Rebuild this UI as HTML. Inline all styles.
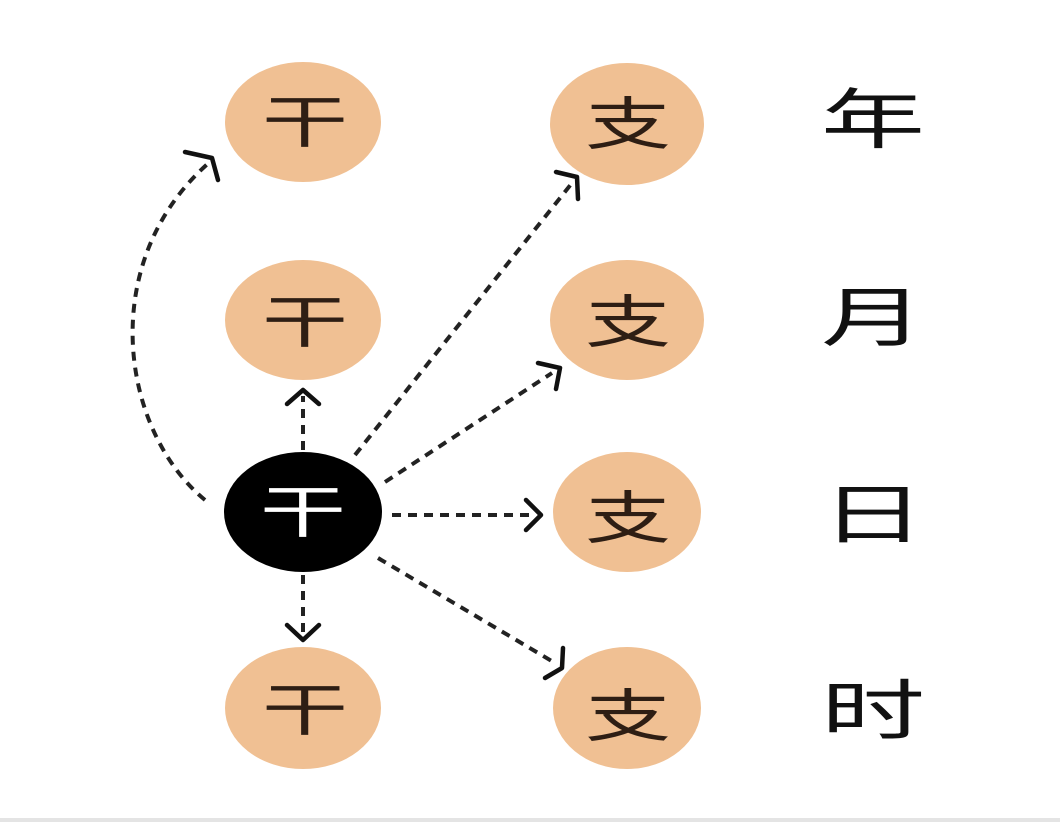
<!DOCTYPE html>
<html><head><meta charset="utf-8"><style>
html,body{margin:0;padding:0;background:#fff;}
svg{display:block;}
text{font-family:"Liberation Sans","Noto Sans CJK SC",sans-serif;}
</style></head><body>
<svg width="1060" height="822" viewBox="0 0 1060 822" xmlns="http://www.w3.org/2000/svg">
<rect width="1060" height="822" fill="#fff"/>
<g fill="#f0c093">
<ellipse cx="303" cy="122" rx="78" ry="60"/>
<ellipse cx="303" cy="320" rx="78" ry="60"/>
<ellipse cx="303" cy="708" rx="78" ry="61"/>
<ellipse cx="627" cy="124" rx="77" ry="61"/>
<ellipse cx="627" cy="320" rx="77" ry="60"/>
<ellipse cx="627" cy="512" rx="74" ry="60"/>
<ellipse cx="627" cy="708" rx="74" ry="61"/>
</g>
<ellipse cx="303" cy="512" rx="79" ry="60" fill="#000"/>
<g font-size="86" text-anchor="middle" fill="#2e1e14">
<text transform="translate(305,122) scale(1,0.66)" y="30">干</text>
<text transform="translate(305,322) scale(1,0.66)" y="30">干</text>
<text transform="translate(305,710) scale(1,0.66)" y="30">干</text>
<text transform="translate(628,124) scale(1,0.66)" y="30">支</text>
<text transform="translate(628,322) scale(1,0.66)" y="30">支</text>
<text transform="translate(628,518) scale(1,0.66)" y="30">支</text>
<text transform="translate(628,716) scale(1,0.66)" y="30">支</text>
<text transform="translate(303,512) scale(1,0.66)" y="30" fill="#fff">干</text>
</g>
<g font-size="104" text-anchor="middle" fill="#111">
<text transform="translate(873,120) scale(1,0.63)" y="36">年</text>
<text transform="translate(873,318) scale(1,0.63)" y="36">月</text>
<text transform="translate(873,515) scale(1,0.63)" y="36">日</text>
<text transform="translate(873,711) scale(1,0.63)" y="36">时</text>
</g>
<g stroke="#222" stroke-width="4" fill="none" stroke-dasharray="9 7">
<line x1="303" y1="450" x2="303" y2="396"/>
<line x1="303" y1="575" x2="303" y2="636"/>
<line x1="392" y1="515" x2="536" y2="515"/>
<line x1="385" y1="482" x2="552" y2="373"/>
<line x1="355" y1="455" x2="572" y2="183"/>
<line x1="378" y1="558" x2="555" y2="663"/>
<path d="M205,500 C120,430 95,260 212,160"/>
</g>
<g stroke="#111" stroke-width="4.5" fill="none" stroke-linecap="round" stroke-linejoin="round">
<polyline points="287,404 303,390 319,404"/>
<polyline points="287,625 303,640 319,625"/>
<polyline points="526,500 541,515 526,530"/>
<polyline points="538,363 560,368 556,389"/>
<polyline points="556,172 577,177 578,199"/>
<polyline points="545,678 562,668 563,648"/>
<polyline points="185,152 212,158 218,180"/>
</g>
<rect x="0" y="818" width="1060" height="4" fill="#e4e4e4"/>
</svg>
</body></html>
